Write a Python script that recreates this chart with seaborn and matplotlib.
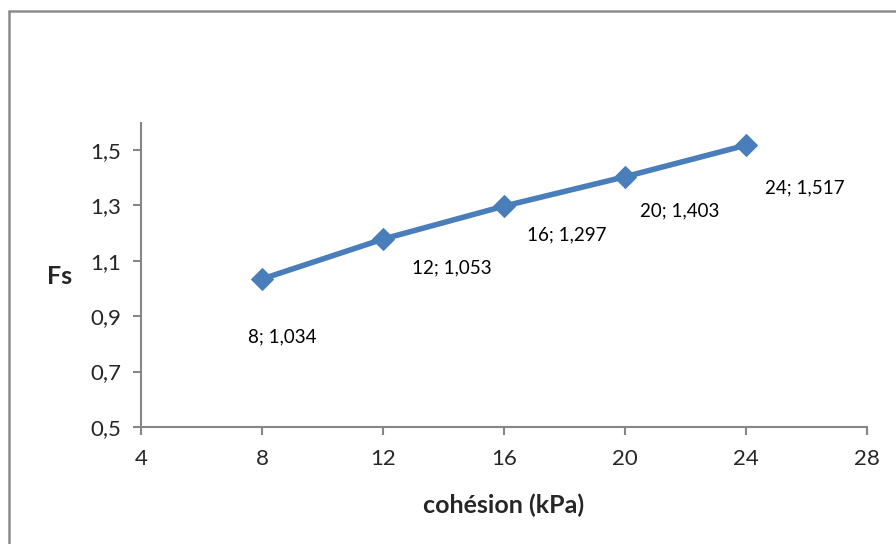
import matplotlib
matplotlib.use("Agg")
import matplotlib.pyplot as plt
import seaborn as sns
import pandas as pd
from matplotlib.lines import Line2D

cohesion = [8, 12, 16, 20, 24]
fs = [1.034, 1.178, 1.297, 1.403, 1.517]
point_labels = ["8; 1,034", "12; 1,053", "16; 1,297", "20; 1,403", "24; 1,517"]
x_ticks = [4, 8, 12, 16, 20, 24, 28]
y_ticks = [0.5, 0.7, 0.9, 1.1, 1.3, 1.5]
y_tick_labels = ["0,5", "0,7", "0,9", "1,1", "1,3", "1,5"]

df = pd.DataFrame({"cohesion": cohesion, "Fs": fs})

sns.set_style("white")
plt.rcParams["font.family"] = ["Lato", "DejaVu Sans"]

fig = plt.figure(figsize=(8.96, 5.44), dpi=100)
W, H = 896, 544
ax = fig.add_axes([141 / W, (H - 427) / H, (867 - 141) / W, (427 - 123) / H])

color = "#4a7ebb"
sns.lineplot(data=df, x="cohesion", y="Fs", ax=ax, color=color, linewidth=4,
             marker="D", markersize=11, markeredgecolor=color)

# label offsets in pixels (dx, dy) relative to each point
offsets = [(20, -58), (69, -29), (63, -29), (55, -34), (59, -43)]
for x, y, lab, (dx, dy) in zip(cohesion, fs, point_labels, offsets):
    ax.annotate(lab, (x, y), xytext=(dx * 0.72, dy * 0.72), textcoords="offset points",
                ha="center", va="center", fontsize=13.5, color="black")

ax.set_xlim(4, 28)
ax.set_ylim(0.5, 1.597)
ax.set_xticks(x_ticks)
ax.set_xticklabels([str(t) for t in x_ticks])
ax.set_yticks(y_ticks)
ax.set_yticklabels(y_tick_labels)
ax.tick_params(axis="both", bottom=True, left=True, labelsize=16, length=6, width=1.5,
               color="#868686", direction="out")
ax.tick_params(axis="y", pad=8)
ax.tick_params(axis="x", pad=10)

for s in ["top", "right"]:
    ax.spines[s].set_visible(False)
for s in ["left", "bottom"]:
    ax.spines[s].set_color("#868686")
    ax.spines[s].set_linewidth(1.5)

ax.set_xlabel("")
ax.set_ylabel("")
fig.text(504 / W, 1 - 505 / H, "cohésion (kPa)", fontsize=18, fontweight="bold",
         ha="center", va="center")
fig.text(60 / W, 1 - 277 / H, "Fs", fontsize=18, fontweight="bold",
         ha="center", va="center")

# outer chart border
fig.add_artist(Line2D([9 / W, 9 / W], [0, 1 - 11 / H], transform=fig.transFigure,
                      color="#8c8c8c", linewidth=1.8))
fig.add_artist(Line2D([9 / W, 1], [1 - 11 / H, 1 - 11 / H], transform=fig.transFigure,
                      color="#8c8c8c", linewidth=1.8))

fig.savefig("out.png", dpi=100)
